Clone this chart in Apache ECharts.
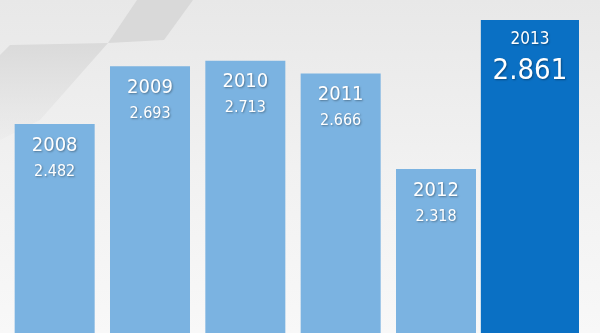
<!DOCTYPE html>
<html>
<head>
<meta charset="utf-8">
<script src="https://cdn.jsdelivr.net/npm/echarts@6/dist/echarts.min.js"></script>
<style>
html,body{margin:0;padding:0;background:#ececec;}
#chart{width:600px;height:333px;}
</style>
</head>
<body>
<div id="chart"></div>
<script>
// Data
var years = ['2008', '2009', '2010', '2011', '2012', '2013'];
var values = [2.482, 2.693, 2.713, 2.666, 2.318, 2.861];
var highlightIndex = 5; // the latest year is emphasised

var FONT = "'DejaVu Sans Condensed', 'Open Sans', sans-serif";

var chart = echarts.init(document.getElementById('chart'));

var normalData = values.map(function (v, i) { return i === highlightIndex ? '-' : v; });
var highlightData = values.map(function (v, i) { return i === highlightIndex ? v : '-'; });

var shadow = {
  textShadowColor: 'rgba(0,0,0,0.35)',
  textShadowBlur: 2,
  textShadowOffsetX: 1,
  textShadowOffsetY: 1
};

function fmt(p) {
  return '{y|' + years[p.dataIndex] + '}\n{v|' + values[p.dataIndex].toFixed(3) + '}';
}

var option = {
  animation: false,
  backgroundColor: {
    type: 'linear', x: 0, y: 0, x2: 0, y2: 1,
    colorStops: [
      { offset: 0, color: '#e8e8e8' },
      { offset: 0.5, color: '#f1f1f1' },
      { offset: 1, color: '#f8f8f8' }
    ]
  },
  graphic: [
    {
      type: 'polygon', z: -10, silent: true,
      shape: { points: [[137, 0], [193, 0], [164, 40], [108, 43]] },
      style: { fill: '#d9d9d9' }
    },
    {
      type: 'polygon', z: -10, silent: true,
      shape: { points: [[10, 45], [108, 43], [40, 120], [0, 140], [0, 55]] },
      style: {
        fill: {
          type: 'linear', x: 0, y: 0, x2: 0, y2: 1,
          colorStops: [
            { offset: 0, color: '#dadada' },
            { offset: 1, color: 'rgba(225,225,225,0.2)' }
          ]
        }
      }
    }
  ],
  grid: { left: 7, right: 21, top: 0, bottom: 0 },
  xAxis: [
    { type: 'category', data: years, show: false },
    { type: 'category', data: years, show: false, gridIndex: 0 }
  ],
  yAxis: { type: 'value', min: 1.721, max: 2.934, show: false },
  series: [
    {
      type: 'bar',
      xAxisIndex: 0,
      data: normalData,
      barWidth: 80,
      itemStyle: { color: '#7bb3e1' },
      label: {
        show: true,
        position: 'insideTop',
        distance: 8,
        formatter: fmt,
        color: '#ffffff',
        rich: {
          y: Object.assign({ fontFamily: FONT, fontSize: 20, lineHeight: 27, color: '#ffffff' }, shadow),
          v: Object.assign({ fontFamily: FONT, fontSize: 16, lineHeight: 25, color: '#ffffff' }, shadow)
        }
      }
    },
    {
      type: 'bar',
      xAxisIndex: 1,
      data: highlightData,
      barWidth: 101,
      itemStyle: { color: '#0a70c4' },
      label: {
        show: true,
        position: 'insideTop',
        distance: 8,
        formatter: fmt,
        color: '#ffffff',
        rich: {
          y: Object.assign({ fontFamily: FONT, fontSize: 17, lineHeight: 24, color: '#ffffff' }, shadow),
          v: Object.assign({ fontFamily: FONT, fontSize: 29, lineHeight: 38, color: '#ffffff' }, shadow)
        }
      }
    }
  ]
};

chart.setOption(option);
</script>
</body>
</html>
